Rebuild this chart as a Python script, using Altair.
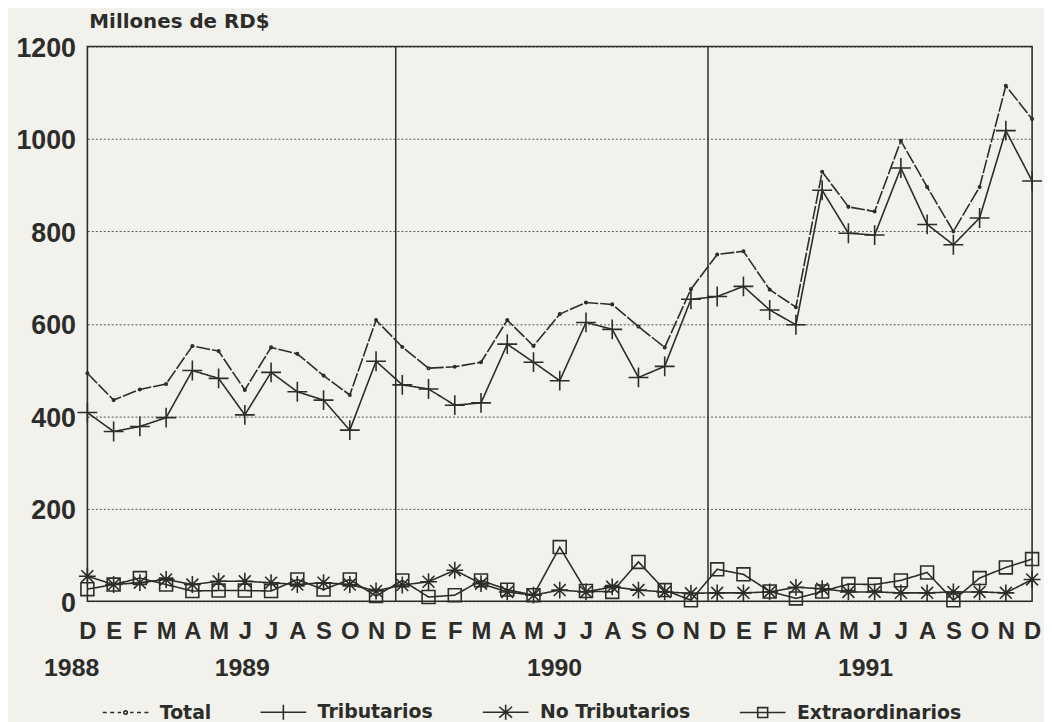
import altair as alt
import pandas as pd

# ---------------- data ----------------
MONTHS = ["D", "E", "F", "M", "A", "M", "J", "J", "A", "S", "O", "N",
          "D", "E", "F", "M", "A", "M", "J", "J", "A", "S", "O", "N",
          "D", "E", "F", "M", "A", "M", "J", "J", "A", "S", "O", "N", "D"]
YEAR_LABELS = ["1988", "1989", "1990", "1991"]
YEAR_POS = [-0.6, 5.9, 17.8, 29.65]
SEPARATORS = [11.75, 23.65]
Y_TICKS = [0, 200, 400, 600, 800, 1000, 1200]

SERIES = ["Total", "Tributarios", "No Tributarios", "Extraordinarios"]
TOTAL = [493, 435, 458, 470, 552, 541, 457, 549, 535, 488, 446, 608,
         550, 504, 507, 517, 608, 552, 621, 646, 642, 594, 549, 675,
         750, 757, 674, 636, 929, 853, 843, 996, 896, 800, 896, 1115, 1043]
TRIB = [408, 367, 378, 397, 499, 482, 403, 495, 453, 435, 370, 519,
        468, 459, 424, 429, 556, 517, 477, 603, 588, 484, 508, 653,
        659, 681, 630, 598, 889, 796, 792, 937, 815, 771, 829, 1018, 909]
NO_TRIB = [54, 36, 40, 47, 36, 43, 43, 40, 36, 40, 36, 22,
           35, 42, 67, 38, 20, 13, 24, 20, 31, 24, 20, 17,
           18, 18, 20, 30, 27, 20, 20, 18, 18, 20, 20, 18, 47]
EXTRA = [26, 36, 50, 36, 22, 23, 23, 22, 47, 25, 47, 11,
         45, 9, 13, 45, 25, 13, 117, 22, 20, 85, 24, 2,
         69, 58, 21, 6, 21, 37, 36, 45, 62, 2, 50, 73, 91]

# ---------------- styling ----------------
INK = "#2c2c2a"
PAPER = "#f2f1eb"
NUM_FONT = "Liberation Sans"
TXT_FONT = "DejaVu Sans"

POINT_PATHS = [
    "M-0.25,0A0.25,0.25 0 1,0 0.25,0A0.25,0.25 0 1,0 -0.25,0",
    "M-2,0H2M0,-2V2",
    "M-1.7,0H1.7M0,-1.7V1.7M-1.2,-1.2L1.2,1.2M-1.2,1.2L1.2,-1.2",
    "M-1.3,-1.3H1.3V1.3H-1.3Z",
]
LEGEND_PATHS = [
    "M-4.6,0H-3.8M-3.1,0H-2.3M-1.6,0H-0.9M0.9,0H1.6M2.3,0H3.1M3.8,0H4.6"
    "M-0.35,0A0.35,0.35 0 1,0 0.35,0A0.35,0.35 0 1,0 -0.35,0",
    "M-4.6,0H4.6M0,-1.5V1.5",
    "M-4.6,0H4.6M0,-1.5V1.5M-1.3,-1.1L1.3,1.1M-1.3,1.1L1.3,-1.1",
    "M-4.6,0H4.6M-1,-1H1V1H-1Z",
]

rows = []
for name, vals in zip(SERIES, [TOTAL, TRIB, NO_TRIB, EXTRA]):
    for i, v in enumerate(vals):
        rows.append({"idx": i, "series": name, "value": v})
df = pd.DataFrame(rows)

years_df = pd.DataFrame({"pos": YEAR_POS, "label": YEAR_LABELS})
sep_df = pd.DataFrame({"pos": SEPARATORS})

month_expr = "[" + ",".join("'%s'" % m for m in MONTHS) + "][datum.value]"

X_SCALE = alt.Scale(domain=[0, len(MONTHS) - 1], nice=False, zero=False)
X_AXIS = alt.Axis(
    values=list(range(len(MONTHS))), labelExpr=month_expr, title=None,
    grid=False, ticks=False, tickSize=0, domain=False,
    labelFont=NUM_FONT, labelFontWeight="bold", labelFontSize=24,
    labelColor=INK, labelBaseline="middle", labelPadding=31,
    labelOverlap=False, labelFlush=False, labelBound=False,
)
Y_SCALE = alt.Scale(domain=[0, 1200], nice=False)
Y_AXIS = alt.Axis(
    values=Y_TICKS, format="d", title=None, grid=True, gridDash=[2, 2],
    gridColor=INK, gridOpacity=0.8, gridWidth=1,
    ticks=False, tickSize=0, domain=False,
    labelFont=NUM_FONT, labelFontWeight="bold", labelFontSize=27,
    labelColor=INK, labelPadding=12, labelOffset=2,
    labelOverlap=False, labelFlush=False,
)


def xq(field):
    return alt.X(field, scale=X_SCALE, axis=X_AXIS)


def yq(field):
    return alt.Y(field, scale=Y_SCALE, axis=Y_AXIS)


lines = alt.Chart(df).mark_line(color=INK, strokeWidth=1.6).encode(
    x=xq("idx:Q"),
    y=yq("value:Q"),
    detail="series:N",
    strokeDash=alt.StrokeDash(
        "series:N",
        scale=alt.Scale(domain=SERIES, range=[[14, 2], [1, 0], [1, 0], [1, 0]]),
        legend=None,
    ),
)

points = alt.Chart(df).mark_point(
    filled=False, color=INK, strokeWidth=1.6, size=100, opacity=1
).encode(
    x=xq("idx:Q"),
    y=yq("value:Q"),
    shape=alt.Shape("series:N", scale=alt.Scale(domain=SERIES, range=POINT_PATHS), legend=None),
)

legend_layer = alt.Chart(df).transform_filter("false").mark_point(
    filled=False, color=INK, strokeWidth=1.6, size=100, opacity=1
).encode(
    x=xq("idx:Q"),
    y=yq("value:Q"),
    shape=alt.Shape(
        "series:N",
        scale=alt.Scale(domain=SERIES, range=LEGEND_PATHS),
        legend=alt.Legend(
            title=None, orient="none", legendX=29, legendY=661,
            direction="horizontal", padding=0,
            symbolSize=100, symbolStrokeColor=INK, symbolStrokeWidth=1.6,
            symbolOpacity=1,
            labelFont=TXT_FONT, labelFontWeight="bold", labelFontSize=19,
            labelColor=INK, labelOffset=25, columnPadding=46,
            labelLimit=400,
        ),
    ),
)

seps = alt.Chart(sep_df).mark_rule(color=INK, strokeWidth=1.5).encode(x=xq("pos:Q"))

years = alt.Chart(years_df).mark_text(
    font=NUM_FONT, fontWeight="bold", fontSize=25, color=INK,
    align="center", baseline="middle",
).encode(x=xq("pos:Q"), y=alt.value(626), text="label:N")

chart = alt.layer(seps, lines, points, legend_layer, years).resolve_scale(
    shape="independent"
).properties(
    width=952,
    height=559,
    padding={"left": 80, "top": 36, "right": 12, "bottom": 120},
    autosize=alt.AutoSizeParams(type="none"),
    background=PAPER,
    title=alt.TitleParams(
        "Millones de RD$", anchor="start", frame="group", font=TXT_FONT,
        fontWeight="bold", fontSize=20, color=INK, offset=3, dx=2,
    ),
).configure_view(stroke=INK, strokeWidth=1.6).configure_axis(labelOverlap=False)

chart.save("out.html", embed_options={"renderer": "svg", "actions": False})
